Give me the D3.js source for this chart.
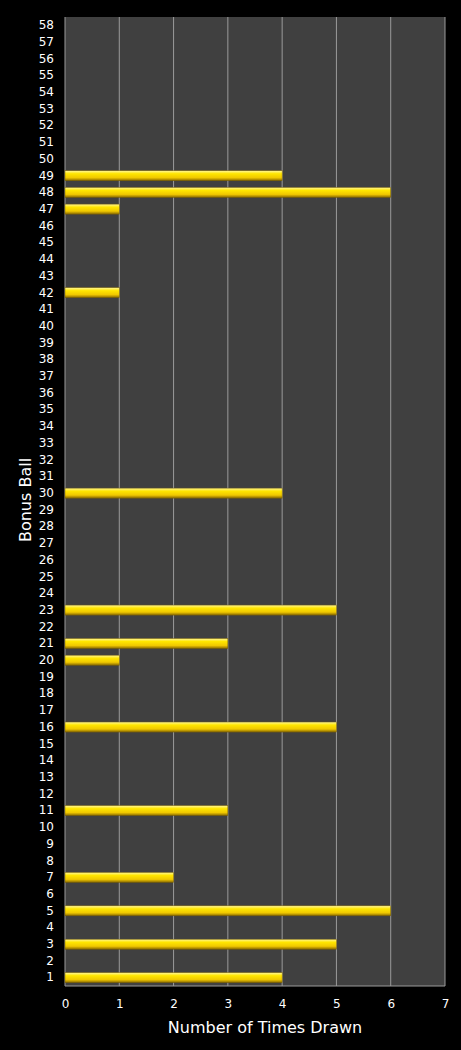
<!DOCTYPE html>
<html><head><meta charset="utf-8">
<script src="https://cdn.jsdelivr.net/npm/d3@7"></script>
<style>body{margin:0;background:#000}svg{display:block}text{font-family:"DejaVu Sans",sans-serif}</style>
</head><body><svg id="c" width="461" height="1050"></svg>
<script>
const balls = d3.range(1,59).map(String);
const drawnBalls = ["1","3","5","7","11","16","20","21","23","30","42","47","48","49"];
const drawnCounts = [4,5,6,2,3,5,1,3,5,4,1,1,6,4];
const xTicks = [0,1,2,3,4,5,6,7];
const svg = d3.select("#c");
const L=65,R=445,T=17,B=986;
const defs = svg.append("defs");
const g = defs.append("linearGradient").attr("id","gold").attr("x1",0).attr("x2",0).attr("y1",0).attr("y2",1);
[[0,"#fff7a0"],[0.3,"#ffe600"],[0.7,"#f0c800"],[1,"#8a6a00"]].forEach(s=>g.append("stop").attr("offset",s[0]).attr("stop-color",s[1]));
const x = d3.scaleLinear().domain([0,7]).range([L,R]);
const y = d3.scaleBand().domain(balls).range([B,T]).paddingInner(0.4).paddingOuter(0.2);
svg.append("rect").attr("x",L).attr("y",T).attr("width",R-L).attr("height",B-T).attr("fill","#404040");
svg.append("g").selectAll("line").data(xTicks.slice(1)).join("line")
 .attr("x1",d=>x(d)).attr("x2",d=>x(d)).attr("y1",T).attr("y2",B).attr("stroke","#9a9a9a").attr("stroke-width",1);
svg.append("line").attr("x1",L).attr("x2",L).attr("y1",T).attr("y2",B).attr("stroke","#9a9a9a");
svg.append("line").attr("x1",L).attr("x2",R).attr("y1",B).attr("y2",B).attr("stroke","#9a9a9a");
svg.append("g").selectAll("rect").data(drawnBalls).join("rect")
 .attr("x",x(0)).attr("y",d=>y(d)).attr("height",y.bandwidth())
 .attr("width",(d,i)=>x(drawnCounts[i])-x(0)).attr("fill","url(#gold)").attr("stroke","#7a6000").attr("stroke-width",0.5);
const ya = svg.append("g").attr("transform",`translate(${L},0)`).call(d3.axisLeft(y).tickSize(0).tickPadding(11));
ya.select(".domain").remove();
ya.selectAll("text").attr("fill","#fff").attr("font-size",12);
const xa = svg.append("g").attr("transform",`translate(0,${B})`).call(d3.axisBottom(x).tickValues(xTicks).tickFormat(d3.format("d")).tickSize(0).tickPadding(13));
xa.select(".domain").remove();
xa.selectAll("text").attr("fill","#fff").attr("font-size",12);
svg.append("text").attr("x",(L+R)/2+10).attr("y",1033).attr("text-anchor","middle").attr("fill","#fff").attr("font-size",16).text("Number of Times Drawn");
svg.append("text").attr("transform","translate(31,500) rotate(-90)").attr("text-anchor","middle").attr("fill","#fff").attr("font-size",16).text("Bonus Ball");
</script></body></html>
